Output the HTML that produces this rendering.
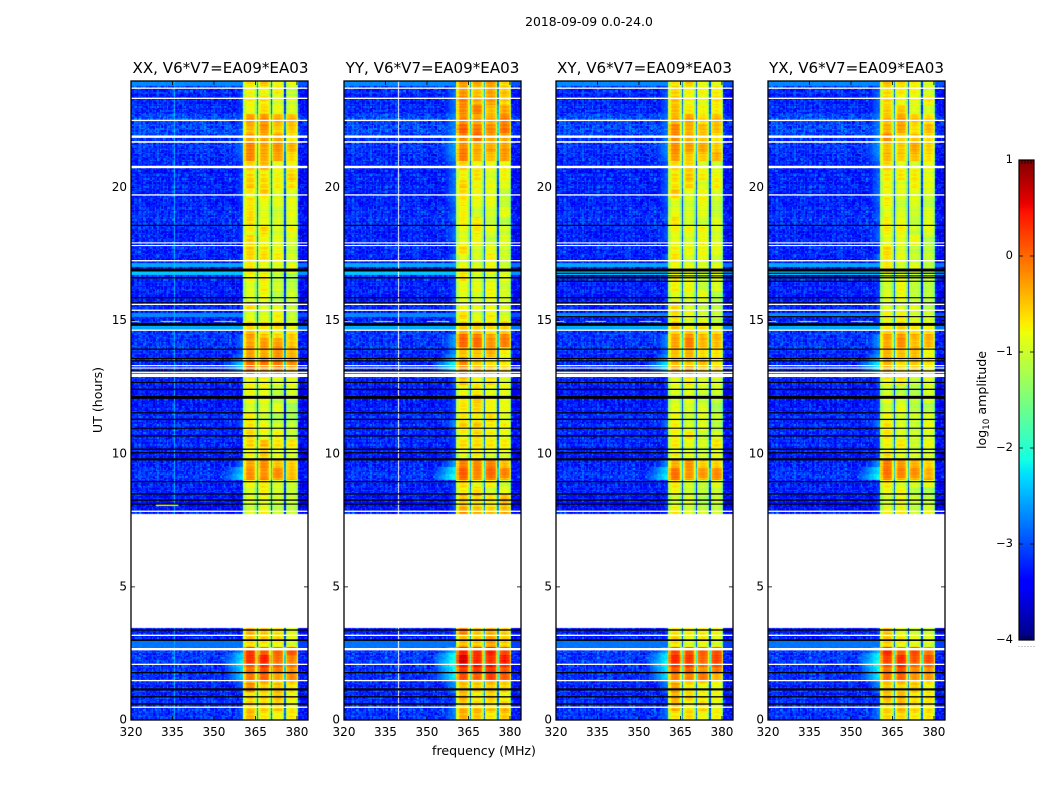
<!DOCTYPE html>
<html lang="en">
<head>
<meta charset="utf-8">
<title>2018-09-09 0.0-24.0</title>
<style>
html,body{margin:0;padding:0;background:#fff;}
#stage{position:relative;width:1050px;height:800px;overflow:hidden;background:#fff;font-family:"DejaVu Sans","Liberation Sans",sans-serif;}
canvas{position:absolute;display:block;}
svg{position:absolute;left:0;top:0;}
text{font-family:"DejaVu Sans","Liberation Sans",sans-serif;fill:#000;}
</style>
</head>
<body>
<div id="stage">
<svg id="overlay" width="1050" height="800" viewBox="0 0 1050 800">
  <g id="marks"></g>
  <g id="axes"></g>
  <text x="589" y="26" font-size="12.4" text-anchor="middle">2018-09-09 0.0-24.0</text>
  <text x="220.5" y="73" font-size="15.1" text-anchor="middle">XX, V6*V7=EA09*EA03</text>
  <text x="432.5" y="73" font-size="15.1" text-anchor="middle">YY, V6*V7=EA09*EA03</text>
  <text x="644.5" y="73" font-size="15.1" text-anchor="middle">XY, V6*V7=EA09*EA03</text>
  <text x="856.5" y="73" font-size="15.1" text-anchor="middle">YX, V6*V7=EA09*EA03</text>
  <text x="484" y="755" font-size="12.6" text-anchor="middle">frequency (MHz)</text>
  <text transform="translate(102,400) rotate(-90)" font-size="12.6" text-anchor="middle">UT (hours)</text>
  <text transform="translate(986,400) rotate(-90)" font-size="12.6" text-anchor="middle">log<tspan font-size="8.8" dy="3">10</tspan><tspan dy="-3"> amplitude</tspan></text>
</svg>
</div>
<script>
/* ---------- axis data ---------- */
const panelNames = ["xx", "yy", "xy", "yx"];
const freqTicks = [320, 335, 350, 365, 380];
const hourTicks = [0, 5, 10, 15, 20];
const colorTicks = [1, 0, -1, -2, -3, -4];
const colorTickLabels = ["1", "0", "\u22121", "\u22122", "\u22123", "\u22124"];

/* band amplitude (log10) for each quarter hour, 0h -> 24h; null = no data */
const bandXX = [-.6,-.55,-.6,-.5,-.45,-.4,-.1,-.05,.15,.2,.1,-.8,-.6,-.6,
 null,null,null,null,null,null,null,null,null,null,null,null,null,null,null,null,null,
 -.9,-.95,-.9,-.9,-.85,-.2,-.2,-.35,-.65,-.7,-.55,-.8,-.8,-.9,-.95,-.95,-1,-.95,-.9,-.85,-.8,
 -.15,-.02,-.28,-.3,-.32,-.38,-.65,-.7,-.8,-.8,-.85,-.9,-.85,-.9,-.9,-.85,-.85,-.7,-.8,-.85,
 -.8,-.7,-.85,-.8,-.85,-.8,-.8,-.65,-.6,-.55,-.6,-.65,-.32,-.28,-.22,-.35,-.4,-.3,-.35,-.8,-.85,-.8,-.7,-.65];
const bandYY = [-.55,-.5,-.65,-.6,-.55,-.5,.1,.15,.4,.4,.3,-.45,-.4,-.4,
 null,null,null,null,null,null,null,null,null,null,null,null,null,null,null,null,null,
 -.45,-.5,-.45,-.8,-.8,-.15,-.1,-.25,-.8,-.8,-.75,-.85,-.8,-.7,-.7,-.75,-.7,-.7,-.8,-.7,-.7,
 -.4,-.4,-.55,-.5,-.15,-.15,-.6,-.7,-.8,-.85,-.85,-.9,-.85,-.9,-.9,-.85,-.9,-.8,-.9,-.9,
 -.95,-.85,-.9,-.9,-.95,-.9,-.9,-.9,-.8,-.8,-.75,-.8,-.35,-.3,-.35,-.12,-.08,-.12,-.18,-.3,-.35,-.35,-.4,-.4];
const bandXY = [-.65,-.6,-.65,-.6,-.55,-.5,-.15,-.1,.15,.2,.1,-.85,-.7,-.7,
 null,null,null,null,null,null,null,null,null,null,null,null,null,null,null,null,null,
 -.95,-.95,-.95,-.95,-.9,-.22,-.22,-.35,-.8,-.9,-.7,-.85,-.9,-.95,-.95,-1,-1,-.95,-.95,-.9,-.85,
 -.4,-.4,-.5,-.5,-.25,-.25,-.6,-.8,-.85,-.8,-.85,-.9,-.85,-.9,-.9,-.9,-.9,-.8,-.8,-.85,
 -.9,-.8,-.9,-.85,-.9,-.85,-.8,-.75,-.7,-.65,-.7,-.75,-.45,-.35,-.32,-.4,-.4,-.35,-.4,-.65,-.7,-.7,-.7,-.65];
const bandYX = [-.65,-.6,-.6,-.55,-.5,-.45,-.1,-.05,.2,.25,.15,-.8,-.7,-.7,
 null,null,null,null,null,null,null,null,null,null,null,null,null,null,null,null,null,
 -.85,-.9,-.9,-.9,-.85,-.28,-.22,-.35,-.8,-.9,-.8,-.9,-.9,-.9,-.95,-.95,-1,-.95,-.95,-.9,-.8,
 -.55,-.5,-.5,-.5,-.3,-.3,-.65,-.8,-.85,-.85,-.9,-.9,-.9,-.9,-.95,-.9,-.9,-.85,-.85,-.9,
 -.9,-.85,-.9,-.9,-.95,-.9,-.9,-.85,-.8,-.75,-.75,-.8,-.5,-.4,-.35,-.4,-.45,-.4,-.45,-.65,-.75,-.75,-.75,-.7];
const bandSeries = [bandXX, bandYY, bandXY, bandYX];

/* relative amplitude of the four sub-bands in each polarisation */
const subbandXX = [.08, .04, -.08, -.16];
const subbandYY = [.12, .04, -.02, -.08];
const subbandXY = [.1, .02, -.08, -.12];
const subbandYX = [.1, .02, -.08, -.12];
const subbandSeries = [subbandXX, subbandYY, subbandXY, subbandYX];

/* amplitude shape across one 5 MHz sub-band, ten 0.5 MHz channels */
const subbandShape = [-2.2, -.38, -.1, -.02, 0, .02, -.02, -.07, -.18, -.62];

/* patchy gain change per sub-band, indexed by block of time */
const patchTable = [.11,-.07,.03,-.13,.16,-.03,.06,-.11,.01,.13,-.17,.07,-.05,.1,-.09,.17,-.01,-.15,.05,.12,-.06,.08,-.12,.02,.14,-.1,-.04,.11,-.14,.06,.04,-.07,.13,-.02,-.12,.09,-.05,.15,-.08,.02,.07];

/* off-band level, quarter hours 0h -> 24h */
const offband = [-3.13,-3.13,-3.18,-3.23,-3.18,-3.23,-3.18,-3.18,-3.13,-3.13,-3.08,-2.95,-3.23,-3.28,
 null,null,null,null,null,null,null,null,null,null,null,null,null,null,null,null,null,
 -3.33,-3.33,-3.28,-3.23,-3.23,-3.13,-3.18,-3.23,-3.28,-3.28,-3.23,-3.23,-3.23,-3.23,-3.23,-3.28,-3.33,-3.28,-3.33,-3.28,-3.23,
 -3.18,-3.18,-3.23,-3.18,-3.13,-3.13,-3.13,-3.18,-3.23,-3.23,-3.23,-3.28,-3.23,-3.23,-3.23,-3.23,-3.28,-3.23,-3.23,-3.23,
 -3.23,-3.23,-3.18,-3.18,-3.18,-3.23,-3.23,-3.23,-3.23,-3.23,-3.28,-3.23,-3.18,-3.13,-3.08,-3.13,-3.03,-3.03,-3.03,-3.18,-3.23,-3.23,-3.18,-3.08];

/* spill from the band toward lower frequency, quarter hours */
const leak = [-2.9,-2.9,-3.2,-3.2,-2.9,-2.8,-2.35,-2.3,-2.2,-2.25,-2.6,-3.2,-3.2,-3.2,
 null,null,null,null,null,null,null,null,null,null,null,null,null,null,null,null,null,
 -3.2,-3.2,-3.2,-3.2,-3.2,-2.25,-2.4,-2.8,-3.2,-3.2,-3.2,-3.2,-3.2,-2.9,-3.2,-3.2,-3.2,-3.2,-3.2,-3.2,-3.2,
 -2.4,-2.3,-2.7,-2.9,-2.8,-2.8,-3.2,-3.2,-3.2,-3.2,-3.2,-3.2,-3.2,-3.2,-3.2,-3.2,-3.2,-3.0,-3.2,-3.2,
 -3.0,-3.0,-3.2,-3.0,-3.1,-3.0,-2.95,-2.95,-3.0,-3.0,-3.0,-3.0,-2.85,-2.75,-2.75,-2.85,-2.85,-2.85,-2.85,-3.0,-3.0,-3.0,-3.0,-3.1];
const leakOffset = [0, .24, .12, .18];

/* missing-data hours: [hour, thickness in hours] */
const whiteFlags = [[23.73,.05],[23.35,.05],[22.52,.05],[21.91,.09],[21.71,.06],[20.77,.09],[19.72,.05],[17.92,.04],[17.82,.04],[17.25,.05],[15.61,.05],[15.39,.05],[14.64,.05],[13.31,.04],[13.22,.04],[13.06,.05],[12.94,.12],[7.84,.05],[3.18,.05],[2.66,.09],[2.09,.05],[1.48,.05],[.48,.05]];
const blackFlags = [[18.58,.04],[16.9,.11],[16.61,.05],[15.86,.04],[15.67,.04],[14.86,.11],[13.93,.04],[13.58,.04],[13.49,.04],[13.11,.04],[12.68,.04],[12.42,.05],[12.12,.11],[11.54,.04],[11.29,.05],[10.96,.04],[10.67,.05],[10.17,.05],[10.04,.04],[9.79,.08],[8.95,.04],[8.49,.05],[8.26,.05],[8.11,.04],[3.38,.05],[3.0,.06],[1.78,.05],[1.15,.08],[.87,.05],[.6,.05]];
/* extra zeroed rows seen only in the cross hands */
const crossBlackFlags = [[16.78,.04],[16.68,.04],[16.48,.04],[15.15,.04]];

/* smooth rows in hours: [from, to, level] */
const smoothRows = [[2.72,3.0,-2.8],[14.67,14.84,-2.55],[12.98,13.06,-2.6],[16.7,16.86,-2.4],[17.0,17.14,-2.55],[15.17,15.32,-2.7],[23.8,24,-2.7]];
/* narrow vertical interference: [MHz, level] per panel */
const rfiColumnsXX = [[335.6,-2.5]];
const rfiColumnsYY = [[336,-2.2]];
const rfiColumnsXY = [[336,-2.4]];
const rfiColumnsYX = [[336,-2.4]];
const rfiColumnSeries = [rfiColumnsXX, rfiColumnsYY, rfiColumnsXY, rfiColumnsYX];
/* flagged frequency channels drawn white: [panel index, MHz] */
const flaggedChannels = [[1, 339.9]];
/* narrow horizontal interference: [panel index or -1 for all, hour, MHz from, MHz to, level] */
const rfiRows = [[-1,14.98,320,323,-1.0],[-1,14.98,331,338,-1.1],[-1,14.98,350,358,-1.1],[0,8.06,329,337,-.95]];

/* amplitude texture tables, hand-written */
const grainA = [.21,-.14,.05,-.27,.3,-.06,.12,-.22,.17,-.31,.08,.26,-.11,-.02,.19,-.29,.14,.03,-.18,.28,-.09,.23,-.25,.06,-.13,.31,-.04,.16,-.2,.1,-.3,.24,-.07,.02,-.16,.27,.09,-.23,.18,-.12,.04,-.28,.22,-.01,.13,-.19,.29,-.08,.07,-.26,.2,-.15,.11,-.24,.25,-.03,.15,-.21,.01,.32,-.1];
const grainB = [-.12,.18,-.05,.09,-.2,.14,.02,-.16,.22,-.08,.11,-.24,.06,.16,-.02,-.14,.2,-.1,.04,.13,-.22,.08,-.04,.24,-.17,.01,.12,-.09,.19,-.13,.05,-.21,.15,.03,-.07,.17,-.18,.1,-.01,.21,-.11,.07,-.15,.23,-.06,-.19,.12];
const rowGrain = [.06,-.08,.14,.02,-.16,.09,-.03,.18,-.12,.04,-.06,.12,-.18,.07,.01,-.1,.16,-.05,.1,-.14,.03,.2,-.09,-.02,.11,-.17,.05,.13,-.07,-.11,.15,-.01,.08,-.2,.12,-.04,.17];
const colGrain = [.04,-.06,.08,.02,-.09,.05,.12,-.03,-.11,.07,.01,-.05,.1,-.08,.03,.09,-.12,.06,-.02,.11,-.07,.04,-.1,.08,0,-.04,.13,-.06,.02,-.09,.07,.05,-.13,.03,.1,-.01,-.08,.06,-.03,.09,-.05];

/* matplotlib jet segments */
const jetRed = [[0,0],[.35,0],[.66,1],[.89,1],[1,.5]];
const jetGreen = [[0,0],[.125,0],[.375,1],[.64,1],[.91,0],[1,0]];
const jetBlue = [[0,.5],[.11,1],[.34,1],[.65,0],[1,0]];

/* ---------- layout and scales ---------- */
const panelLeft = [131, 344, 556, 768];
const panelWidth = 177, plotTop = 81, plotBottom = 720;
const FREQ_MIN = 320, FREQ_MAX = 384, HOUR_MAX = 24;
const BAND_START = 360.4, BAND_END = 380.4;
const CHANNEL_MHZ = .5, ROW_HOURS = .05;
const cbarLeft = 1019, cbarRight = 1034, cbarTop = 160, cbarBottom = 640;
const SVGNS = "http://www.w3.org/2000/svg";

function xScale(panel, f) { return panelLeft[panel] + (f - FREQ_MIN) * panelWidth / (FREQ_MAX - FREQ_MIN); }
function yScale(h) { return plotBottom - h * (plotBottom - plotTop) / HOUR_MAX; }
function cScale(v) { return cbarBottom - (v + 4) * (cbarBottom - cbarTop) / 5; }

function seg(table, v) {
  for (let i = 1; i < table.length; i++) {
    if (v <= table[i][0]) {
      const a = table[i - 1], b = table[i];
      return a[1] + (b[1] - a[1]) * (v - a[0]) / (b[0] - a[0]);
    }
  }
  return table[table.length - 1][1];
}
function jet(logAmp) {
  const v = Math.max(0, Math.min(1, (logAmp + 4) / 5));
  return "rgb(" + Math.round(seg(jetRed, v) * 255) + "," + Math.round(seg(jetGreen, v) * 255) + "," + Math.round(seg(jetBlue, v) * 255) + ")";
}
function mk(tag, attrs, parent) {
  const el = document.createElementNS(SVGNS, tag);
  for (const k in attrs) el.setAttribute(k, attrs[k]);
  parent.appendChild(el);
  return el;
}

function cellValue(panel, c, r) {
  const f = FREQ_MIN + (c + .5) * CHANNEL_MHZ;
  const h = (r + .5) * ROW_HOURS;
  const q = Math.min(95, Math.floor(h * 4));
  const band = bandSeries[panel][q];
  if (band === null || h > 3.45 && h < 7.72) return null;
  const g = grainA[(c * c * 3 + r * r * 5 + c * r * 7) % grainA.length] +
            grainB[(c * c + r * r * 2 + c * r * 3 + c) % grainB.length] * .7;
  const rg = rowGrain[r % rowGrain.length];
  for (const rr of rfiRows) {
    if ((rr[0] === -1 || rr[0] === panel) && Math.abs(h - rr[1]) < ROW_HOURS * .5 && f >= rr[2] && f <= rr[3]) return rr[4] + g * .6;
  }
  for (const fc of flaggedChannels) {
    if (fc[0] === panel && Math.abs(f - fc[1]) < CHANNEL_MHZ * .5) return null;
  }
  if (f >= BAND_START && f < BAND_END) {
    const offsetMHz = f - BAND_START;
    const sub = Math.min(3, Math.floor(offsetMHz / 5));
    const k = Math.floor(offsetMHz / CHANNEL_MHZ) % 10;
    let shape = subbandShape[k];
    if (sub === 0 && k === 0) shape = -.5;
    const depth = shape < -1.5 ? 1 : (band + 1.1) / .8 * .3 + .85;
    const block = Math.floor(r / 7);
    const patch = patchTable[(block * 5 + sub * 7 + panel * 11) % patchTable.length];
    return band + subbandSeries[panel][sub] + shape * depth + patch + g * .12 + rg * .6;
  }
  let base = offband[q] + colGrain[c % colGrain.length];
  if (f >= BAND_END) base -= .15;
  let value = base + g * .95 + rg * .5;
  for (const s of smoothRows) {
    if (h >= s[0] && h < s[1]) value = s[2] + g * .12 + (f >= BAND_END ? -.25 : 0);
  }
  if (f < BAND_START) {
    const reach = leak[q] + leakOffset[panel];
    const spill = reach - (BAND_START - f) * .13;
    if (BAND_START - f < 8 && spill > value - .2) value = spill + g * .3;
    for (const col of rfiColumnSeries[panel]) {
      if (Math.abs(f - col[0]) < CHANNEL_MHZ * .5) value = Math.max(value, col[1] + g * .5);
    }
  }
  return value;
}

/* ---------- heatmaps ---------- */
const stage = document.getElementById("stage");
const overlay = document.getElementById("overlay");
const marks = document.getElementById("marks");
const axes = document.getElementById("axes");
const channelCount = Math.round((FREQ_MAX - FREQ_MIN) / CHANNEL_MHZ);
const rowCount = Math.round(HOUR_MAX / ROW_HOURS);

panelNames.forEach(function (name, p) {
  const cv = document.createElement("canvas");
  cv.width = panelWidth;
  cv.height = plotBottom - plotTop;
  cv.style.left = panelLeft[p] + "px";
  cv.style.top = plotTop + "px";
  
  
  stage.insertBefore(cv, overlay);
  const ctx = cv.getContext("2d");
  for (let r = 0; r < rowCount; r++) {
    const y0 = Math.round(yScale((r + 1) * ROW_HOURS)) - plotTop;
    const y1 = Math.round(yScale(r * ROW_HOURS)) - plotTop;
    for (let c = 0; c < channelCount; c++) {
      const v = cellValue(p, c, r);
      if (v === null) continue;
      const x0 = Math.round(xScale(p, FREQ_MIN + c * CHANNEL_MHZ)) - panelLeft[p];
      const x1 = Math.round(xScale(p, FREQ_MIN + (c + 1) * CHANNEL_MHZ)) - panelLeft[p];
      ctx.fillStyle = jet(v);
      ctx.fillRect(x0, y0, x1 - x0, y1 - y0);
    }
  }

  /* flagged rows */
  function drawFlag(f, color, label) {
    const top = yScale(f[0] + f[1] / 2);
    const rect = mk("rect", { x: panelLeft[p], y: top.toFixed(2), width: panelWidth, height: Math.max(1.1, f[1] * (plotBottom - plotTop) / HOUR_MAX).toFixed(2), fill: color }, marks);
    
    
  }
  whiteFlags.forEach(function (f) { drawFlag(f, "#fff", "missing-row-" + name); });
  blackFlags.forEach(function (f) { drawFlag(f, "#000", "zero-row-" + name); });
  if (p >= 2) crossBlackFlags.forEach(function (f) { drawFlag(f, "#000", "zero-row-" + name); });

  /* frame */
  const frame = mk("rect", { x: panelLeft[p], y: plotTop, width: panelWidth, height: plotBottom - plotTop, fill: "none", stroke: "#000", "stroke-width": 1.3 }, axes);
  
  

  /* frequency ticks */
  freqTicks.forEach(function (t) {
    const x = xScale(p, t);
    const tb = mk("line", { x1: x, x2: x, y1: plotBottom, y2: plotBottom - 4, stroke: "#000", "stroke-width": .8 }, axes);
    
    
    const tt = mk("line", { x1: x, x2: x, y1: plotTop, y2: plotTop + 4, stroke: "#000", "stroke-width": .8 }, axes);
    
    
    const lab = mk("text", { x: x, y: 736, "font-size": 12, "text-anchor": "middle" }, axes);
    lab.textContent = String(t);
    
    
  });

  /* hour ticks */
  hourTicks.forEach(function (t) {
    const y = yScale(t);
    const tl = mk("line", { x1: panelLeft[p], x2: panelLeft[p] + 4, y1: y, y2: y, stroke: "#000", "stroke-width": .8 }, axes);
    
    
    const tr = mk("line", { x1: panelLeft[p] + panelWidth, x2: panelLeft[p] + panelWidth - 4, y1: y, y2: y, stroke: "#000", "stroke-width": .8 }, axes);
    
    
    const lab = mk("text", { x: panelLeft[p] - 4, y: y + 3.5, "font-size": 12, "text-anchor": "end" }, axes);
    lab.textContent = String(t);
    
    
  });
});

/* ---------- colour bar ---------- */
const cbar = mk("g", {}, axes);


for (let py = cbarTop; py < cbarBottom; py += 2) {
  const value = 1 - (py + 1 - cbarTop) * 5 / (cbarBottom - cbarTop);
  const step = mk("rect", { x: cbarLeft, y: py, width: cbarRight - cbarLeft, height: 2.2, fill: jet(value) }, cbar);
  
  
}
const cbarFrame = mk("rect", { x: cbarLeft, y: cbarTop, width: cbarRight - cbarLeft, height: cbarBottom - cbarTop, fill: "none", stroke: "#000", "stroke-width": 1.2 }, cbar);


colorTicks.forEach(function (v, i) {
  const y = cScale(v);
  const left = mk("line", { x1: cbarLeft, x2: cbarLeft + 4, y1: y, y2: y, stroke: "#000", "stroke-width": .8 }, cbar);
  
  
  const right = mk("line", { x1: cbarRight, x2: cbarRight - 4, y1: y, y2: y, stroke: "#000", "stroke-width": .8 }, cbar);
  
  
  const lab = mk("text", { x: cbarLeft - 6, y: y + 3, "font-size": 11.5, "text-anchor": "end" }, cbar);
  lab.textContent = colorTickLabels[i];
  
  
});
for (let i = 0; i <= 5; i++) {
  const x = cbarLeft + i * (cbarRight - cbarLeft) / 5;
  const top = mk("line", { x1: x, x2: x, y1: cbarTop, y2: cbarTop + 4, stroke: "#000", "stroke-width": .7 }, cbar);
  
  
  const bottom = mk("line", { x1: x, x2: x, y1: cbarBottom, y2: cbarBottom - 4, stroke: "#000", "stroke-width": .7 }, cbar);
  
  
  const dot = mk("rect", { x: x - .5, y: 646, width: 1, height: 1, fill: "#999" }, cbar);
  
  
}
</script>
</body>
</html>
